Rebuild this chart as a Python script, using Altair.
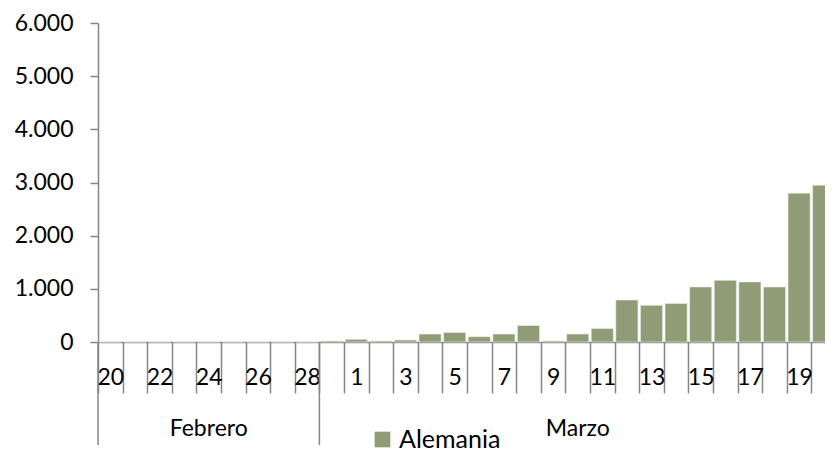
import altair as alt
import pandas as pd

# ---- data ----
dias = ["20", "21", "22", "23", "24", "25", "26", "27", "28",
        "29", "1", "2", "3", "4", "5", "6", "7", "8", "9", "10",
        "11", "12", "13", "14", "15", "16", "17", "18", "19", "20"]
meses = ["Febrero"] * 9 + ["Marzo"] * 21
casos = [0, 0, 0, 0, 0, 0, 0, 0, 0,
         18, 50, 20, 37, 150, 180, 100, 150, 310, 20, 150,
         255, 790, 690, 725, 1035, 1160, 1130, 1035, 2800, 2950]
serie = "Alemania"
y_ticks = [0, 1000, 2000, 3000, 4000, 5000, 6000]
grupos = ["Febrero", "Marzo"]
grupo_inicio = [0, 9]
grupo_fin = [9, 30]

BAR = "#909C76"
AXIS = "#868686"
FONT = "Lato"
PLOT_W = 727      # visible part of the plot
RANGE_W = 738     # full category axis (runs past the right edge, as in the reference)

df = pd.DataFrame({
    "idx": list(range(len(dias))),
    "dia": dias,
    "mes": meses,
    "casos": casos,
    "serie": [serie] * len(dias),
})

# every other day label is shown, as in the reference
shown = [d if i % 2 == 0 else "" for i, d in enumerate(dias)]
label_expr = "[" + ",".join("'" + s + "'" for s in shown) + "][datum.value]"

bars = alt.Chart(df).mark_bar(
    width=alt.RelativeBandSize(0.9), stroke="#EEF0E8", strokeWidth=0.6
).encode(
    x=alt.X("idx:O",
            scale=alt.Scale(paddingInner=0, paddingOuter=0, range=[0, RANGE_W]),
            axis=alt.Axis(title=None, labelExpr=label_expr, labelAngle=0,
                          tickBand="extent", tickSize=51, tickColor=AXIS,
                          tickWidth=1.5, domainColor=AXIS, domainWidth=1.5,
                          labelFont=FONT, labelFontSize=23, labelColor="black",
                          labelPadding=-9, labelBaseline="alphabetic",
                          labelOverlap=False)),
    y=alt.Y("casos:Q",
            scale=alt.Scale(domain=[0, 6000], nice=False),
            axis=alt.Axis(title=None, values=y_ticks, grid=False,
                          labelExpr="replace(format(datum.value, ','), ',', '.')",
                          tickSize=8, tickColor=AXIS, tickWidth=1.5,
                          domainColor=AXIS, domainWidth=1.5,
                          labelFont=FONT, labelFontSize=23, labelColor="black",
                          labelPadding=17)),
    color=alt.Color("serie:N",
                    scale=alt.Scale(range=[BAR]),
                    legend=alt.Legend(title=None, orient="none", legendX=272,
                                      legendY=404, direction="horizontal",
                                      symbolType="square", symbolSize=245,
                                      symbolStrokeWidth=0, labelFont=FONT,
                                      labelFontSize=25, labelColor="black",
                                      labelOffset=4, padding=0)),
)

gdf = pd.DataFrame({"mes": grupos, "inicio": grupo_inicio, "fin": grupo_fin})
xq = alt.Scale(domain=[0, len(dias)], nice=False, zero=False, range=[0, RANGE_W])

seps = alt.Chart(gdf).mark_rule(color=AXIS, strokeWidth=1.5).encode(
    x=alt.X("inicio:Q", scale=xq, axis=None),
    y=alt.value(319),
    y2=alt.value(422),
)

grp_text = alt.Chart(gdf).transform_calculate(
    centro="(datum.inicio + datum.fin) / 2"
).mark_text(font=FONT, fontSize=23, color="black", align="center",
            baseline="alphabetic").encode(
    x=alt.X("centro:Q", scale=xq, axis=None),
    y=alt.value(413),
    text="mes:N",
)

chart = alt.layer(bars, seps, grp_text).resolve_scale(
    x="independent"
).properties(
    width=PLOT_W, height=319, autosize="none",
    padding={"left": 90, "top": 15, "right": 0, "bottom": 113},
).configure_view(strokeWidth=0)

chart.save("out.html", embed_options={"renderer": "svg", "actions": False})
